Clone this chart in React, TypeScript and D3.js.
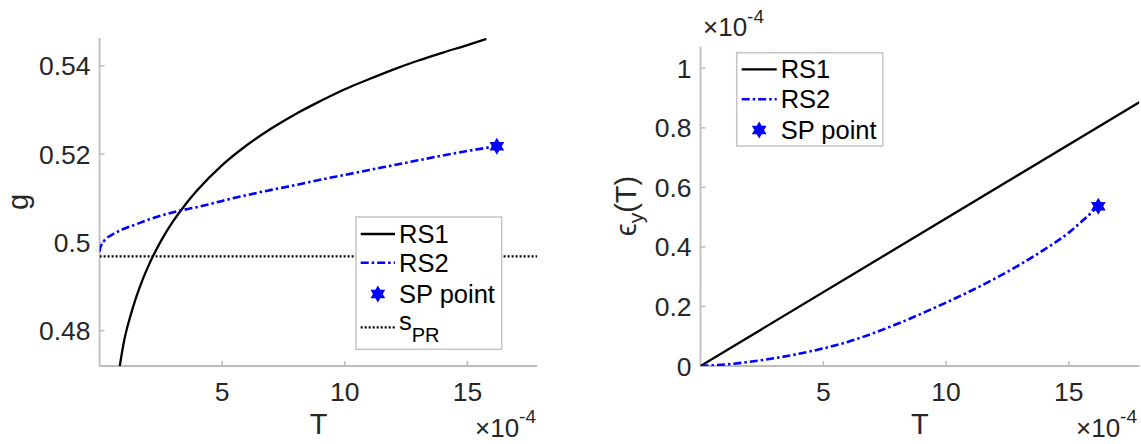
import React from "react";
import * as d3 from "d3";

// ---------- data (T in units of 1e-4) ----------
const leftRS1T = [0.8, 1.0, 1.25, 1.5, 1.75, 2.0, 2.5, 3.0, 3.5, 4.0, 5.0, 6.0, 7.0, 8.0, 9.0, 10.0, 11.0, 12.0, 13.0, 14.0, 15.0, 15.77];
const leftRS1G = [0.4712, 0.4777, 0.4832, 0.4877, 0.4915, 0.4948, 0.5003, 0.5048, 0.5086, 0.5119, 0.5175, 0.522, 0.5258, 0.5291, 0.532, 0.5347, 0.537, 0.5392, 0.5412, 0.543, 0.5447, 0.5461];

const leftRS2T = [0, 0.02, 0.08, 0.22, 0.5, 0.76, 1.1, 1.44, 2.12, 3.21, 4.3, 5.0, 6.0, 7.0, 8.0, 9.0, 10.0, 11.0, 12.0, 13.0, 14.0, 15.0, 16.2];
const leftRS2G = [0.4979, 0.4987, 0.4995, 0.5006, 0.5017, 0.5025, 0.5033, 0.504, 0.5054, 0.5071, 0.5084, 0.5094, 0.5107, 0.5119, 0.513, 0.5142, 0.5153, 0.5164, 0.5175, 0.5186, 0.5197, 0.5207, 0.5218];

const sPR = 0.49683;
const spPointT = 16.2;
const spPointG = 0.5218;

const rightRS1T = [0, 17.87];
const rightRS1E = [0, 0.886];

const rightRS2T = [0, 1, 2, 3, 4, 5, 6, 7, 8, 9, 10, 11, 12, 13, 14, 15, 15.6, 16.2];
const rightRS2E = [0, 0.005, 0.014, 0.026, 0.041, 0.059, 0.081, 0.109, 0.141, 0.176, 0.213, 0.252, 0.294, 0.34, 0.391, 0.448, 0.491, 0.537];
const spPointE = 0.537;

const leftYTicks = [0.48, 0.5, 0.52, 0.54];
const leftYTickLabels = ["0.48", "0.5", "0.52", "0.54"];
const rightYTicks = [0, 0.2, 0.4, 0.6, 0.8, 1];
const rightYTickLabels = ["0", "0.2", "0.4", "0.6", "0.8", "1"];
const xTicks = [5, 10, 15];
const xTickLabels = ["5", "10", "15"];

// ---------- styling ----------
const FONT = "'Liberation Sans', Arial, Helvetica, sans-serif";
const TXT = "#262626";
const AX = "#bdbdbd";
const BLUE = "#0000ff";
const DASHDOT = "8,3,2.5,3";
const DOTS = "2,2";

function hexagram(cx: number, cy: number, R: number) {
  const r = R / Math.sqrt(3);
  const pts: string[] = [];
  for (let i = 0; i < 12; i++) {
    const a = -Math.PI / 2 + (i * Math.PI) / 6;
    const rad = i % 2 === 0 ? R : r;
    pts.push(`${cx + rad * Math.cos(a)},${cy + rad * Math.sin(a)}`);
  }
  return `M${pts.join("L")}Z`;
}

type Pt = [number, number];
const zip = (a: number[], b: number[]): Pt[] => a.map((v, i) => [v, b[i]]);

export default function App() {
  const lx = d3.scaleLinear().domain([0, 17.85]).range([99.6, 537.3]);
  const ly = d3.scaleLinear().domain([0.472, 0.5463]).range([366, 38]);
  const rx = d3.scaleLinear().domain([0, 17.87]).range([700.5, 1139.3]);
  const ry = d3.scaleLinear().domain([0, 1.0725]).range([366, 46.7]);

  const lLine = d3.line<Pt>().x((d) => lx(d[0])).y((d) => ly(d[1])).curve(d3.curveMonotoneX);
  const rLine = d3.line<Pt>().x((d) => rx(d[0])).y((d) => ry(d[1])).curve(d3.curveMonotoneX);

  const tickFs = 26.5;
  const legFs = 25.5;
  const labFs = 29;

  const legendItem = (x0: number, x1: number, y: number, kind: string, label: React.ReactNode) => (
    <g key={kind + y}>
      {kind === "solid" && <line x1={x0} x2={x1} y1={y} y2={y} stroke="#000" strokeWidth={2.3} />}
      {kind === "dashdot" && <line x1={x0} x2={x1} y1={y} y2={y} stroke={BLUE} strokeWidth={2.4} strokeDasharray={DASHDOT} />}
      {kind === "star" && <path d={hexagram((x0 + x1) / 2, y, 8.5)} fill={BLUE} />}
      <text x={x1 + 4} y={y} dy="0.36em" fontSize={legFs} fill="#000" fontFamily={FONT}>
        {label}
      </text>
    </g>
  );

  return (
    <svg width={1141} height={444} style={{ position: "absolute", left: 0, top: 0, background: "#fff" }} fontFamily={FONT}>
      <defs>
        <clipPath id="clipL">
          <rect x={lx(0)} y={ly(0.5463)} width={lx(17.85) - lx(0)} height={ly(0.472) - ly(0.5463)} />
        </clipPath>
        <clipPath id="clipR">
          <rect x={rx(0)} y={ry(1.0725)} width={rx(17.87) - rx(0)} height={ry(0) - ry(1.0725)} />
        </clipPath>
      </defs>

      {/* ================= LEFT ================= */}
      <g>
        <line x1={lx(0)} x2={lx(0)} y1={ly(0.5463)} y2={ly(0.472)} stroke={AX} strokeWidth={1.8} />
        <line x1={lx(0)} x2={lx(17.85)} y1={ly(0.472)} y2={ly(0.472)} stroke={AX} strokeWidth={1.8} />
        {xTicks.map((t, i) => (
          <g key={"lxt" + t}>
            <line x1={lx(t)} x2={lx(t)} y1={ly(0.472)} y2={ly(0.472) - 5} stroke={AX} strokeWidth={1.5} />
            <text x={lx(t)} y={400.5} textAnchor="middle" fontSize={tickFs} fill={TXT}>{xTickLabels[i]}</text>
          </g>
        ))}
        {leftYTicks.map((t, i) => (
          <g key={"lyt" + t}>
            <line x1={lx(0)} x2={lx(0) + 5} y1={ly(t)} y2={ly(t)} stroke={AX} strokeWidth={1.5} />
            <text x={lx(0) - 9} y={ly(t)} dy="0.36em" textAnchor="end" fontSize={tickFs} fill={TXT}>{leftYTickLabels[i]}</text>
          </g>
        ))}
        <text x={318.5} y={434} textAnchor="middle" fontSize={labFs} fill={TXT}>T</text>
        <text transform={`translate(28,202) rotate(-90)`} textAnchor="middle" fontSize={labFs} fill={TXT}>g</text>
        <text x={536} y={437} textAnchor="end" fontSize={26} fill={TXT}>
          ×10<tspan dy={-14} fontSize={19}>-4</tspan>
        </text>

        <g clipPath="url(#clipL)">
          <line x1={lx(0)} x2={lx(17.85)} y1={ly(sPR)} y2={ly(sPR)} stroke="#000" strokeWidth={2.2} strokeDasharray={DOTS} />
          <path d={lLine(zip(leftRS1T, leftRS1G)) || ""} fill="none" stroke="#000" strokeWidth={2.3} />
          <path d={lLine(zip(leftRS2T, leftRS2G)) || ""} fill="none" stroke={BLUE} strokeWidth={2.6} strokeDasharray={DASHDOT} />
        </g>
        <path d={hexagram(lx(spPointT), ly(spPointG), 8.5)} fill={BLUE} />

        <rect x={356} y={217} width={145.7} height={132.3} fill="#fff" stroke="#c4c4c4" strokeWidth={1.5} />
        {legendItem(360.7, 395, 234, "solid", "RS1")}
        {legendItem(360.7, 395, 262.7, "dashdot", "RS2")}
        {legendItem(360.7, 395, 294, "star", "SP point")}
        <line x1={360.7} x2={395} y1={327.3} y2={327.3} stroke="#000" strokeWidth={2.2} strokeDasharray={DOTS} />
        <text x={399} y={330} fontSize={legFs} fill="#000">
          s<tspan dy={12} fontSize={20}>PR</tspan>
        </text>
      </g>

      {/* ================= RIGHT ================= */}
      <g>
        <line x1={rx(0)} x2={rx(0)} y1={ry(1.0725)} y2={ry(0)} stroke={AX} strokeWidth={1.8} />
        <line x1={rx(0)} x2={rx(17.87)} y1={ry(0)} y2={ry(0)} stroke={AX} strokeWidth={1.8} />
        {xTicks.map((t, i) => (
          <g key={"rxt" + t}>
            <line x1={rx(t)} x2={rx(t)} y1={ry(0)} y2={ry(0) - 5} stroke={AX} strokeWidth={1.5} />
            <text x={rx(t)} y={400.5} textAnchor="middle" fontSize={tickFs} fill={TXT}>{xTickLabels[i]}</text>
          </g>
        ))}
        {rightYTicks.map((t, i) => (
          <g key={"ryt" + t}>
            <line x1={rx(0)} x2={rx(0) + 5} y1={ry(t)} y2={ry(t)} stroke={AX} strokeWidth={1.5} />
            <text x={rx(0) - 9} y={ry(t)} dy="0.36em" textAnchor="end" fontSize={tickFs} fill={TXT}>{rightYTickLabels[i]}</text>
          </g>
        ))}
        <text x={919.9} y={434} textAnchor="middle" fontSize={labFs} fill={TXT}>T</text>
        <text transform={`translate(636,206) rotate(-90)`} textAnchor="middle" fontSize={labFs} fill={TXT}>
          ϵ<tspan dy={7} fontSize={21}>y</tspan><tspan dy={-7}>(T)</tspan>
        </text>
        <text x={703} y={36} fontSize={26} fill={TXT}>
          ×10<tspan dy={-13} fontSize={19}>-4</tspan>
        </text>
        <text x={1137} y={437} textAnchor="end" fontSize={26} fill={TXT}>
          ×10<tspan dy={-14} fontSize={19}>-4</tspan>
        </text>

        <g clipPath="url(#clipR)">
          <path d={rLine(zip(rightRS1T, rightRS1E)) || ""} fill="none" stroke="#000" strokeWidth={2.3} />
          <path d={rLine(zip(rightRS2T, rightRS2E)) || ""} fill="none" stroke={BLUE} strokeWidth={2.6} strokeDasharray={DASHDOT} />
        </g>
        <path d={hexagram(rx(spPointT), ry(spPointE), 8.5)} fill={BLUE} />

        <rect x={736.7} y={52.7} width={146} height={93.3} fill="#fff" stroke="#c4c4c4" strokeWidth={1.5} />
        {legendItem(741.7, 776.7, 69.3, "solid", "RS1")}
        {legendItem(741.7, 776.7, 99.3, "dashdot", "RS2")}
        {legendItem(741.7, 776.7, 130, "star", "SP point")}
      </g>
    </svg>
  );
}
